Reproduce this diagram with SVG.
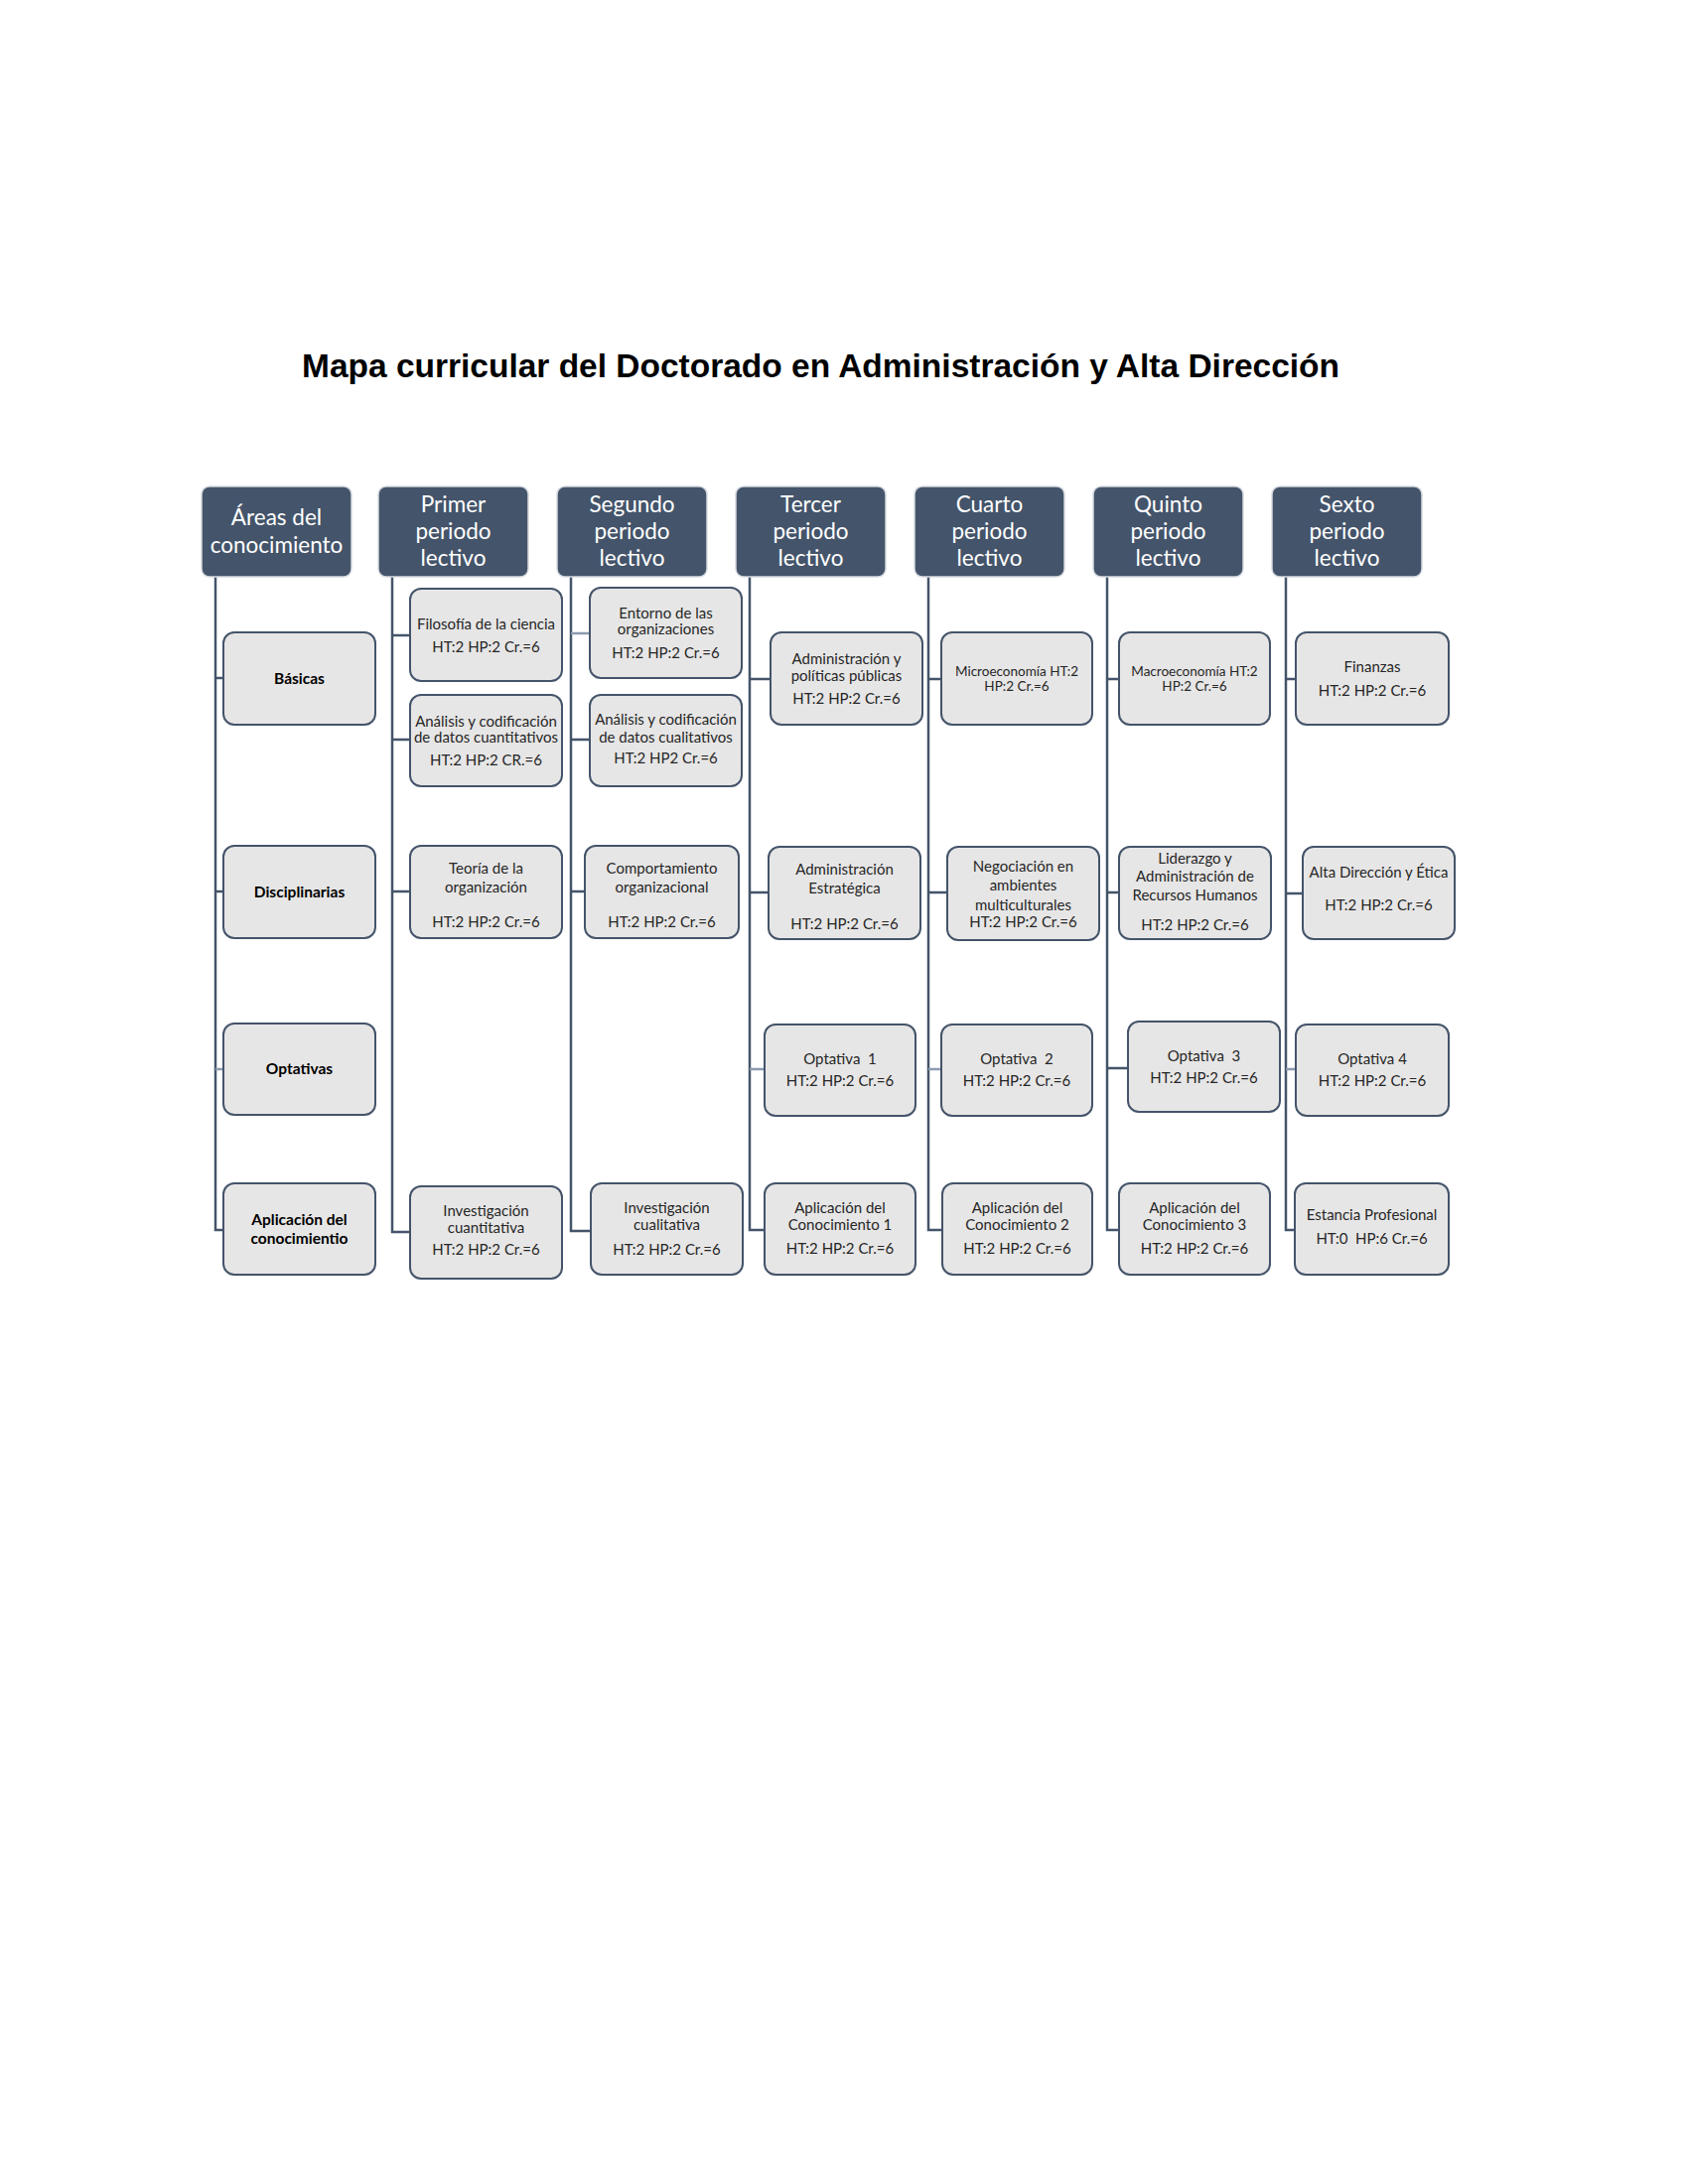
<svg xmlns="http://www.w3.org/2000/svg" width="1700" height="2200" viewBox="0 0 1700 2200">
<style>
.bg{fill:#ffffff}
.title{font-family:"Liberation Sans",Arial,sans-serif;font-weight:bold;font-size:33px;fill:#000}
.hdr rect{fill:#44546A;stroke:#D6DAE0;stroke-width:1.5}
.hdr text{font-family:Lato,"Open Sans",sans-serif;font-size:22.5px;fill:#FFFFFF;text-anchor:middle}
.box rect{fill:#E7E6E6;stroke:#44546A;stroke-width:2}
.box text{font-family:Lato,"Open Sans",sans-serif;font-size:15px;fill:#262626;text-anchor:middle}
.box text.sm{font-size:13.5px}
.area text{font-weight:bold;font-size:15.5px;fill:#000}
.con path{fill:none;stroke:#44546A;stroke-width:2.5}
.con path.lt{stroke:#8C9BB0}
</style>
<rect class="bg" x="0" y="0" width="1700" height="2200"/>
<text class="title" x="304" y="380" textLength="1045" lengthAdjust="spacingAndGlyphs">Mapa curricular del Doctorado en Administración y Alta Dirección</text>

<g id="connectors" class="con">
  <path d="M217,581 V1239 H225"/>
  <path d="M217,683 H225"/>
  <path d="M217,898 H225"/>
  <path class="lt" d="M217,1077 H225"/>
  <path d="M395,581 V1241 H413"/>
  <path d="M395,640 H413"/>
  <path d="M395,745 H413"/>
  <path d="M395,898 H413"/>
  <path d="M575,581 V1240 H595"/>
  <path class="lt" d="M575,638 H594"/>
  <path d="M575,745 H594"/>
  <path d="M575,898 H589"/>
  <path d="M755,581 V1239 H770"/>
  <path d="M755,684 H776"/>
  <path d="M755,899 H774"/>
  <path class="lt" d="M755,1077 H770"/>
  <path d="M935,581 V1239 H949"/>
  <path d="M935,684 H948"/>
  <path d="M935,899 H954"/>
  <path class="lt" d="M935,1077 H948"/>
  <path d="M1115,581 V1239 H1127"/>
  <path d="M1115,684 H1127"/>
  <path d="M1115,899 H1127"/>
  <path d="M1115,1076 H1136"/>
  <path d="M1295,581 V1239 H1304"/>
  <path d="M1295,684 H1305"/>
  <path d="M1295,900 H1312"/>
  <path class="lt" d="M1295,1077 H1305"/>
</g>

<g id="h-areas" class="hdr"><rect x="203" y="490" width="151" height="91" rx="8"/><text x="278.5" y="529">Áreas del</text><text x="278.5" y="557">conocimiento</text></g>
<g id="h-primer" class="hdr"><rect x="381" y="490" width="151" height="91" rx="8"/><text x="456.5" y="516">Primer</text><text x="456.5" y="543">periodo</text><text x="456.5" y="570">lectivo</text></g>
<g id="h-segundo" class="hdr"><rect x="561" y="490" width="151" height="91" rx="8"/><text x="636.5" y="516">Segundo</text><text x="636.5" y="543">periodo</text><text x="636.5" y="570">lectivo</text></g>
<g id="h-tercer" class="hdr"><rect x="741" y="490" width="151" height="91" rx="8"/><text x="816.5" y="516">Tercer</text><text x="816.5" y="543">periodo</text><text x="816.5" y="570">lectivo</text></g>
<g id="h-cuarto" class="hdr"><rect x="921" y="490" width="151" height="91" rx="8"/><text x="996.5" y="516">Cuarto</text><text x="996.5" y="543">periodo</text><text x="996.5" y="570">lectivo</text></g>
<g id="h-quinto" class="hdr"><rect x="1101" y="490" width="151" height="91" rx="8"/><text x="1176.5" y="516">Quinto</text><text x="1176.5" y="543">periodo</text><text x="1176.5" y="570">lectivo</text></g>
<g id="h-sexto" class="hdr"><rect x="1281" y="490" width="151" height="91" rx="8"/><text x="1356.5" y="516">Sexto</text><text x="1356.5" y="543">periodo</text><text x="1356.5" y="570">lectivo</text></g>

<g id="a-basicas" class="box area"><rect x="225" y="637" width="153" height="93" rx="11"/><text x="301.5" y="689">Básicas</text></g>
<g id="a-disciplinarias" class="box area"><rect x="225" y="852" width="153" height="93" rx="11"/><text x="301.5" y="904">Disciplinarias</text></g>
<g id="a-optativas" class="box area"><rect x="225" y="1031" width="153" height="92" rx="11"/><text x="301.5" y="1082">Optativas</text></g>
<g id="a-aplicacion" class="box area"><rect x="225" y="1192" width="153" height="92" rx="11"/><text x="301.5" y="1234">Aplicación del</text><text x="301.5" y="1253">conocimientio</text></g>

<g id="p1-filosofia" class="box"><rect x="413" y="593" width="153" height="93" rx="11"/><text x="489.5" y="634">Filosofía de la ciencia</text><text x="489.5" y="657">HT:2 HP:2 Cr.=6</text></g>
<g id="p1-analisis" class="box"><rect x="413" y="700" width="153" height="92" rx="11"/><text x="489.5" y="732">Análisis y codificación</text><text x="489.5" y="748">de datos cuantitativos</text><text x="489.5" y="771">HT:2 HP:2 CR.=6</text></g>
<g id="p1-teoria" class="box"><rect x="413" y="852" width="153" height="93" rx="11"/><text x="489.5" y="880">Teoría de la</text><text x="489.5" y="899">organización</text><text x="489.5" y="934">HT:2 HP:2 Cr.=6</text></g>
<g id="p1-investigacion" class="box"><rect x="413" y="1195" width="153" height="93" rx="11"/><text x="489.5" y="1225">Investigación</text><text x="489.5" y="1242">cuantitativa</text><text x="489.5" y="1264">HT:2 HP:2 Cr.=6</text></g>

<g id="p2-entorno" class="box"><rect x="594" y="592" width="153" height="91" rx="11"/><text x="670.5" y="623">Entorno de las</text><text x="670.5" y="639">organizaciones</text><text x="670.5" y="663">HT:2 HP:2 Cr.=6</text></g>
<g id="p2-analisis" class="box"><rect x="594" y="700" width="153" height="92" rx="11"/><text x="670.5" y="730">Análisis y codificación</text><text x="670.5" y="748">de datos cualitativos</text><text x="670.5" y="769">HT:2 HP2 Cr.=6</text></g>
<g id="p2-comportamiento" class="box"><rect x="589" y="852" width="155" height="93" rx="11"/><text x="666.5" y="880">Comportamiento</text><text x="666.5" y="899">organizacional</text><text x="666.5" y="934">HT:2 HP:2 Cr.=6</text></g>
<g id="p2-investigacion" class="box"><rect x="595" y="1192" width="153" height="92" rx="11"/><text x="671.5" y="1222">Investigación</text><text x="671.5" y="1239">cualitativa</text><text x="671.5" y="1264">HT:2 HP:2 Cr.=6</text></g>

<g id="p3-adminpol" class="box"><rect x="776" y="637" width="153" height="93" rx="11"/><text x="852.5" y="669">Administración y</text><text x="852.5" y="686">políticas públicas</text><text x="852.5" y="709">HT:2 HP:2 Cr.=6</text></g>
<g id="p3-estrategica" class="box"><rect x="774" y="853" width="153" height="93" rx="11"/><text x="850.5" y="881">Administración</text><text x="850.5" y="900">Estratégica</text><text x="850.5" y="936">HT:2 HP:2 Cr.=6</text></g>
<g id="p3-optativa1" class="box"><rect x="770" y="1032" width="152" height="92" rx="11"/><text x="846" y="1072">Optativa&#160; 1</text><text x="846" y="1094">HT:2 HP:2 Cr.=6</text></g>
<g id="p3-aplicacion1" class="box"><rect x="770" y="1192" width="152" height="92" rx="11"/><text x="846" y="1222">Aplicación del</text><text x="846" y="1239">Conocimiento 1</text><text x="846" y="1263">HT:2 HP:2 Cr.=6</text></g>

<g id="p4-micro" class="box"><rect x="948" y="637" width="152" height="93" rx="11"/><text class="sm" x="1024" y="681">Microeconomía HT:2</text><text class="sm" x="1024" y="696">HP:2 Cr.=6</text></g>
<g id="p4-negociacion" class="box"><rect x="954" y="853" width="153" height="94" rx="11"/><text x="1030.5" y="878">Negociación en</text><text x="1030.5" y="897">ambientes</text><text x="1030.5" y="917">multiculturales</text><text x="1030.5" y="934">HT:2 HP:2 Cr.=6</text></g>
<g id="p4-optativa2" class="box"><rect x="948" y="1032" width="152" height="92" rx="11"/><text x="1024" y="1072">Optativa&#160; 2</text><text x="1024" y="1094">HT:2 HP:2 Cr.=6</text></g>
<g id="p4-aplicacion2" class="box"><rect x="949" y="1192" width="151" height="92" rx="11"/><text x="1024.5" y="1222">Aplicación del</text><text x="1024.5" y="1239">Conocimiento 2</text><text x="1024.5" y="1263">HT:2 HP:2 Cr.=6</text></g>

<g id="p5-macro" class="box"><rect x="1127" y="637" width="152" height="93" rx="11"/><text class="sm" x="1203" y="681">Macroeconomía HT:2</text><text class="sm" x="1203" y="696">HP:2 Cr.=6</text></g>
<g id="p5-liderazgo" class="box"><rect x="1127" y="853" width="153" height="93" rx="11"/><text x="1203.5" y="870">Liderazgo y</text><text x="1203.5" y="888">Administración de</text><text x="1203.5" y="907">Recursos Humanos</text><text x="1203.5" y="937">HT:2 HP:2 Cr.=6</text></g>
<g id="p5-optativa3" class="box"><rect x="1136" y="1029" width="153" height="91" rx="11"/><text x="1212.5" y="1069">Optativa&#160; 3</text><text x="1212.5" y="1091">HT:2 HP:2 Cr.=6</text></g>
<g id="p5-aplicacion3" class="box"><rect x="1127" y="1192" width="152" height="92" rx="11"/><text x="1203" y="1222">Aplicación del</text><text x="1203" y="1239">Conocimiento 3</text><text x="1203" y="1263">HT:2 HP:2 Cr.=6</text></g>

<g id="p6-finanzas" class="box"><rect x="1305" y="637" width="154" height="93" rx="11"/><text x="1382" y="677">Finanzas</text><text x="1382" y="701">HT:2 HP:2 Cr.=6</text></g>
<g id="p6-altadireccion" class="box"><rect x="1312" y="853" width="153" height="93" rx="11"/><text x="1388.5" y="884">Alta Dirección y Ética</text><text x="1388.5" y="917">HT:2 HP:2 Cr.=6</text></g>
<g id="p6-optativa4" class="box"><rect x="1305" y="1032" width="154" height="92" rx="11"/><text x="1382" y="1072">Optativa 4</text><text x="1382" y="1094">HT:2 HP:2 Cr.=6</text></g>
<g id="p6-estancia" class="box"><rect x="1304" y="1192" width="155" height="92" rx="11"/><text x="1381.5" y="1229">Estancia Profesional</text><text x="1381.5" y="1253">HT:0&#160; HP:6 Cr.=6</text></g>
</svg>
